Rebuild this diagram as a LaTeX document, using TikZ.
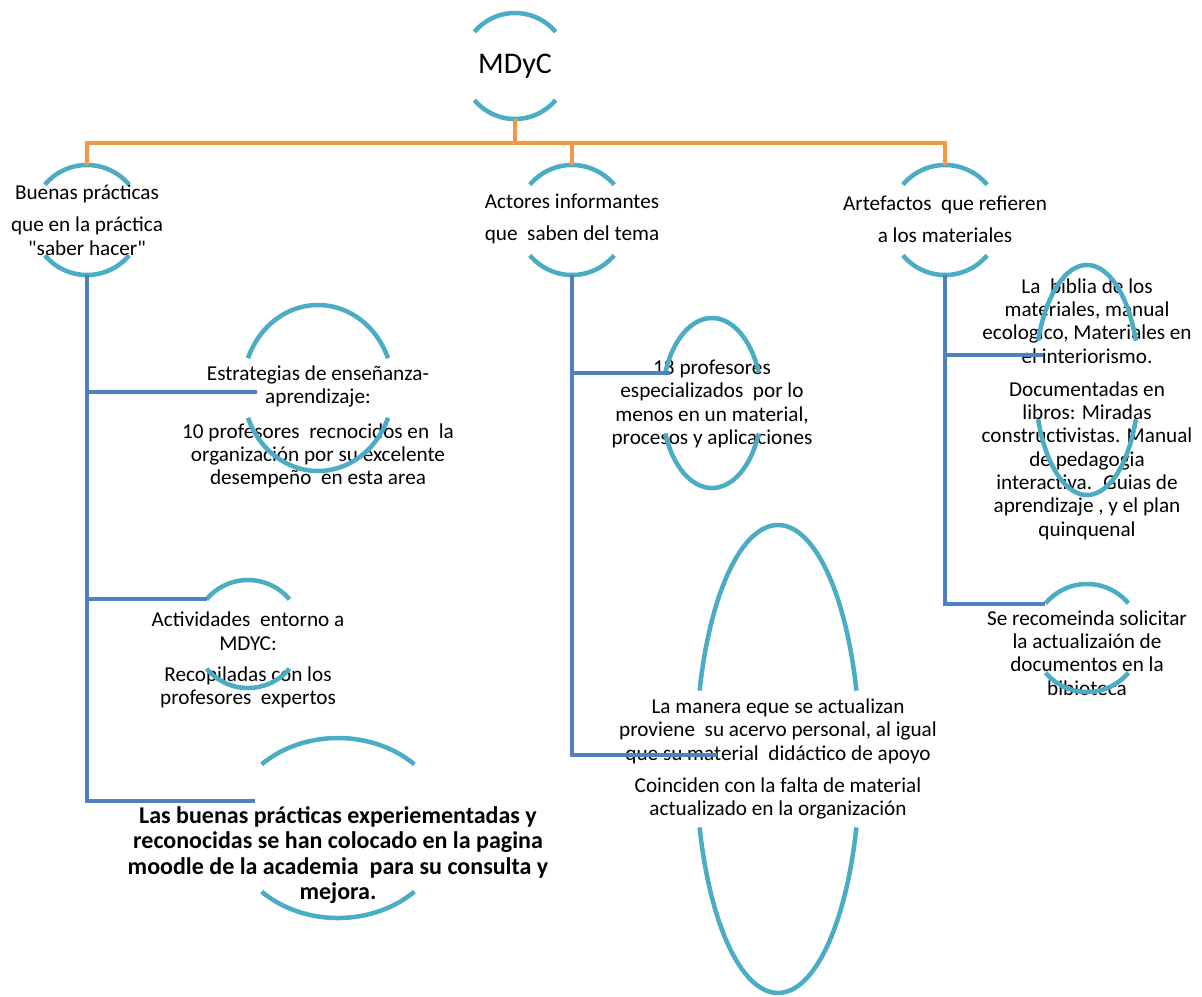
\documentclass[tikz,border=0pt]{standalone}
\usepackage{fontspec}
\setmainfont{Carlito}[Ligatures=TeXOff]
\usetikzlibrary{calc,shapes.geometric}
\definecolor{ringblue}{HTML}{4BACC6}
\definecolor{busorange}{HTML}{F79646}
\definecolor{linkblue}{HTML}{4F81BD}

\tikzset{
  ring/.style={ellipse, draw=none, inner sep=0pt, outer sep=0pt},
  ringarc/.style={draw=ringblue, line width=4.5pt},
  label/.style={inner sep=0pt, align=center, font=\fontsize{21.2}{23.3}\selectfont},
  boldlabel/.style={inner sep=0pt, align=center, font=\bfseries\fontsize{24}{25.5}\selectfont},
  bus/.style={draw=busorange, line width=4.5pt},
  link/.style={draw=linkblue, line width=4.5pt},
}

% ring made of an upper and a lower arc: name, cx, cy, x radius, y radius, gap angle
\newcommand\ringshape[6]{%
  \node[ring, minimum width={2*#4pt}, minimum height={2*#5pt}] (#1) at (#2,#3) {};
  \draw[ringarc, shift={(#1.center)}] plot[domain={180+#6}:{360-#6}, samples=60, variable=\ang] ({#4*cos(\ang)},{#5*sin(\ang)});
  \draw[ringarc, shift={(#1.center)}] plot[domain={#6}:{180-#6}, samples=60, variable=\ang] ({#4*cos(\ang)},{#5*sin(\ang)});
}

\begin{document}
\begin{tikzpicture}[x=1pt, y=-1pt]
\path[use as bounding box, fill=white] (0,0) rectangle (1202,996);

% texts
\node[label, font=\fontsize{30}{36}\selectfont] (mdyc-t) at (515,66) {MDyC};
\node[label] (buenas-t) at (87,220) {Buenas prácticas\\[9pt]que en la práctica\\"saber hacer"};
\node[label] (actores-t) at (572,219) {Actores informantes\\[9pt]que~ saben del tema};
\node[label] (artef-t) at (945,219) {Artefactos~ que refieren\\[9pt]a los materiales};
\node[label] (estr-t) at (318,427) {Estrategias de enseñanza-\\aprendizaje:\\[11pt]10 profesores~ recnocidos en~ la\\organización por su excelente\\desempeño~ en esta area};
\node[label] (activ-t) at (248,660) {Actividades~ entorno a\\MDYC:\\[8pt]Recopiladas con los\\profesores~ expertos};
\node[boldlabel] (moodle-t) at (338,855) {Las buenas prácticas experiementadas y\\reconocidas se han colocado en la pagina\\moodle de la academia~ para su consulta y\\mejora.};
\node[label] (prof-t) at (712,404) {18 profesores\\especializados~ por lo\\menos en un material,\\procesos y aplicaciones};
\node[label] (manera-t) at (778,759) {La manera eque se actualizan\\proviene~ su acervo personal, al igual\\que su material~ didáctico de apoyo\\[9pt]Coinciden con la falta de material\\actualizado en la organización};
\node[label] (biblia-t) at (1087,409) {La~ biblia de los\\materiales, manual\\ecologico, Materiales en\\el interiorismo.\\[10pt]Documentadas en\\libros: Miradas\\constructivistas. Manual\\de pedagogia\\interactiva.~ Guias de\\aprendizaje , y el plan\\quinquenal};
\node[label] (recom-t) at (1087,653) {Se recomeinda solicitar\\la actualizaión de\\documentos en la\\bibioteca};

% rings
\ringshape{mdyc}{515}{66}{53}{53}{40}
\ringshape{buenas}{87}{220}{55}{55}{40}
\ringshape{actores}{572}{220}{55}{55}{40}
\ringshape{artef}{945}{220}{55}{55}{40}
\ringshape{estr}{318}{388}{75}{83}{21}
\ringshape{activ}{248}{634}{54}{54}{40}
\ringshape{moodle}{338}{828}{108}{90}{45}
\ringshape{prof}{712}{403}{50}{85}{21}
\ringshape{manera}{778}{759}{82}{234}{17}
\ringshape{biblia}{1087}{380}{52}{115}{20}
\ringshape{recom}{1087}{638}{54}{54}{40}

% connector end points
\coordinate (busline) at (0,143);
\coordinate (estr-in) at (257,392);
\coordinate (activ-in) at (207,599);
\coordinate (moodle-in) at (255,801);
\coordinate (prof-in) at (670,373);
\coordinate (manera-in) at (717,755);
\coordinate (biblia-in) at (1043,355);
\coordinate (recom-in) at (1045,604);

% top level bus
\draw[bus] (mdyc.south) -- (mdyc.south |- busline);
\draw[bus] (buenas.north) -- (buenas.north |- busline) -- (artef.north |- busline) -- (artef.north);
\draw[bus] (actores.north) -- (actores.north |- busline);

% branch connectors
\draw[link] (buenas.south) |- (estr-in);
\draw[link] (buenas.south) |- (activ-in);
\draw[link] (buenas.south) |- (moodle-in);
\draw[link] (actores.south) |- (prof-in);
\draw[link] (actores.south) |- (manera-in);
\draw[link] (artef.south) |- (biblia-in);
\draw[link] (artef.south) |- (recom-in);
\end{tikzpicture}
\end{document}
